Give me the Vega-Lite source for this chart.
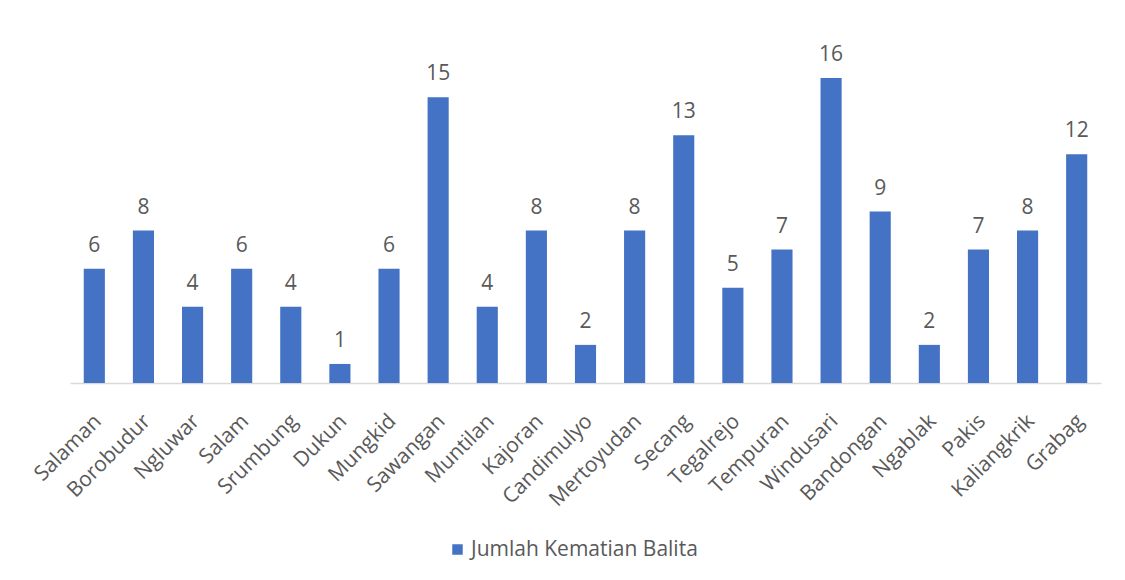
{
  "$schema": "https://vega.github.io/schema/vega-lite/v6.json",
  "autosize": {"type": "none"},
  "width": 1031,
  "height": 343,
  "padding": {"left": 70, "top": 40, "right": 24, "bottom": 197},
  "background": "white",
  "config": {"view": {"stroke": null}, "font": "Open Sans"},
  "data": {"values": [
    {"kecamatan": "Salaman", "jumlah": 6, "seri": "Jumlah Kematian Balita"},
    {"kecamatan": "Borobudur", "jumlah": 8, "seri": "Jumlah Kematian Balita"},
    {"kecamatan": "Ngluwar", "jumlah": 4, "seri": "Jumlah Kematian Balita"},
    {"kecamatan": "Salam", "jumlah": 6, "seri": "Jumlah Kematian Balita"},
    {"kecamatan": "Srumbung", "jumlah": 4, "seri": "Jumlah Kematian Balita"},
    {"kecamatan": "Dukun", "jumlah": 1, "seri": "Jumlah Kematian Balita"},
    {"kecamatan": "Mungkid", "jumlah": 6, "seri": "Jumlah Kematian Balita"},
    {"kecamatan": "Sawangan", "jumlah": 15, "seri": "Jumlah Kematian Balita"},
    {"kecamatan": "Muntilan", "jumlah": 4, "seri": "Jumlah Kematian Balita"},
    {"kecamatan": "Kajoran", "jumlah": 8, "seri": "Jumlah Kematian Balita"},
    {"kecamatan": "Candimulyo", "jumlah": 2, "seri": "Jumlah Kematian Balita"},
    {"kecamatan": "Mertoyudan", "jumlah": 8, "seri": "Jumlah Kematian Balita"},
    {"kecamatan": "Secang", "jumlah": 13, "seri": "Jumlah Kematian Balita"},
    {"kecamatan": "Tegalrejo", "jumlah": 5, "seri": "Jumlah Kematian Balita"},
    {"kecamatan": "Tempuran", "jumlah": 7, "seri": "Jumlah Kematian Balita"},
    {"kecamatan": "Windusari", "jumlah": 16, "seri": "Jumlah Kematian Balita"},
    {"kecamatan": "Bandongan", "jumlah": 9, "seri": "Jumlah Kematian Balita"},
    {"kecamatan": "Ngablak", "jumlah": 2, "seri": "Jumlah Kematian Balita"},
    {"kecamatan": "Pakis", "jumlah": 7, "seri": "Jumlah Kematian Balita"},
    {"kecamatan": "Kaliangkrik", "jumlah": 8, "seri": "Jumlah Kematian Balita"},
    {"kecamatan": "Grabag", "jumlah": 12, "seri": "Jumlah Kematian Balita"}
  ]},
  "encoding": {
    "x": {
      "field": "kecamatan", "type": "nominal", "sort": null,
      "scale": {"paddingInner": 0.57, "paddingOuter": 0.28},
      "axis": {
        "title": null, "labelAngle": -45, "labelFontSize": 21, "labelColor": "#595959",
        "domainColor": "#D9D9D9", "domainWidth": 1.5, "ticks": false, "labelPadding": 27,
        "labelOffset": -4, "labelLimit": 300
      }
    },
    "y": {
      "field": "jumlah", "type": "quantitative",
      "scale": {"domain": [0, 18], "nice": false},
      "axis": null
    }
  },
  "layer": [
    {
      "mark": {"type": "bar", "color": "#4472C4"},
      "encoding": {
        "color": {
          "field": "seri", "type": "nominal",
          "scale": {"range": ["#4472C4"]},
          "legend": {
            "title": null, "orient": "none", "legendX": 377, "legendY": 499,
            "symbolType": "square", "symbolSize": 110, "labelFontSize": 21,
            "labelColor": "#595959", "symbolStrokeWidth": 0, "labelOffset": 3,
            "labelLimit": 400
          }
        }
      }
    },
    {
      "mark": {"type": "text", "baseline": "bottom", "dy": -13, "fontSize": 21, "color": "#595959"},
      "encoding": {"text": {"field": "jumlah", "type": "quantitative"}}
    }
  ]
}
